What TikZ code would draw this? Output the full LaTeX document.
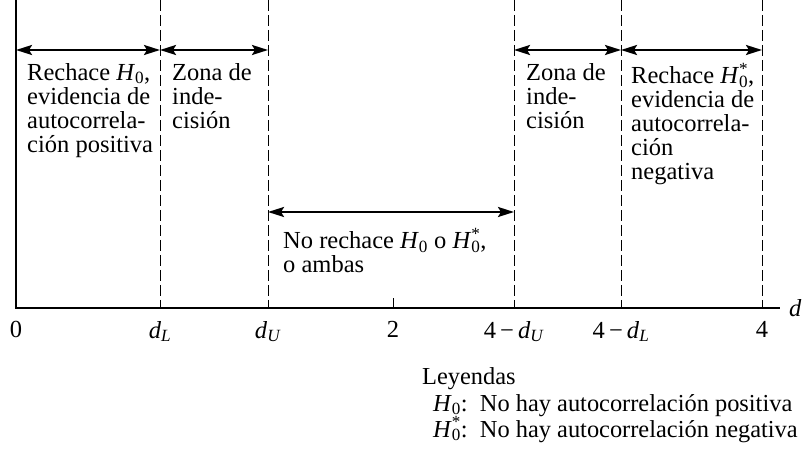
\documentclass[tikz,border=0pt]{standalone}
\usepackage{fontspec}
\setmainfont{Liberation Serif}
\usepackage{tikz}
\usetikzlibrary{arrows.meta,positioning}
\newcommand{\Hnull}{\textit{H}\textsubscript{0}}
\newcommand{\Hstar}{\textit{H}\rlap{\textsuperscript{*}}\textsubscript{0}}
\newcommand{\dsub}[1]{\textit{d}\textsubscript{\textit{#1}}}
\tikzset{
  zonetext/.style={anchor=north west, align=left, inner sep=0pt,
    font=\fontsize{24.5}{24}\selectfont},
  ticklabel/.style={anchor=north, inner sep=0pt, font=\fontsize{24.5}{24}\selectfont},
  legendtext/.style={anchor=base west, inner sep=0pt, font=\fontsize{24.4}{26}\selectfont},
  bound/.style={line width=1pt, dash pattern=on 11pt off 4pt},
  axisline/.style={line width=1.4pt},
  span/.style={{Stealth[length=16pt,width=10pt,inset=3pt]}-{Stealth[length=16pt,width=10pt,inset=3pt]},
    line width=2.3pt}
}

\begin{document}
\begin{tikzpicture}[x=1pt,y=-1pt]
    \useasboundingbox (0,0) rectangle (803,454);
    % rows and tick points on the d axis
    \coordinate (top) at (0,0);
    \coordinate (arow) at (0,50);
    \coordinate (mrow) at (0,212);
    \coordinate (p0) at (16,308);
    \coordinate (pL) at (160,308);
    \coordinate (pU) at (268,308);
    \coordinate (p2) at (393,308);
    \coordinate (qU) at (514,308);
    \coordinate (qL) at (621,308);
    \coordinate (p4) at (762,308);
    \coordinate (axend) at (780,308);

    \draw[axisline] (p0|-top) -- (p0) -- (axend);
    \foreach \p in {pL,pU,qU,qL,p4}
      \draw[bound] (\p|-top) -- (\p);
    \draw[line width=1pt] (p2) -- ++(0,-10);
    \node[inner sep=0pt, anchor=west, font=\fontsize{24.5}{24}\selectfont, right=9pt of axend] (dlab) {\textit{d}};

    % spans
    \draw[span] (p0|-arow) -- (pL|-arow);
    \draw[span] (pL|-arow) -- (pU|-arow);
    \draw[span] (qU|-arow) -- (qL|-arow);
    \draw[span] (qL|-arow) -- (p4|-arow);
    \draw[span] (pU|-mrow) -- (qU|-mrow);

    % zone texts
    \node[zonetext] (rejpos) at (27,63) {Rechace \Hnull,\\evidencia de\\autocorrela-\\ción positiva};
    \node[zonetext] (indlow) at (172,63) {Zona de\\inde-\\cisión};
    \node[zonetext] (indup) at (526,63) {Zona de\\inde-\\cisión};
    \node[zonetext] (rejneg) at (631,63) {Rechace \Hstar,\\evidencia de\\autocorrela-\\ción\\negativa};
    \node[zonetext] (norej) at (283,228) {No rechace \Hnull{} o \Hstar,\\o ambas};

    % tick labels
    \node[ticklabel] (l0) at ([yshift=-13pt]p0) {0};
    \node[ticklabel] (lL) at ([yshift=-13pt]pL) {\dsub{L}};
    \node[ticklabel] (lU) at ([yshift=-13pt]pU) {\dsub{U}};
    \node[ticklabel] (l2) at ([yshift=-13pt]p2) {2};
    \node[ticklabel] (lqU) at ([yshift=-13pt]qU) {4\,−\,\dsub{U}};
    \node[ticklabel] (lqL) at ([yshift=-13pt]qL) {4\,−\,\dsub{L}};
    \node[ticklabel] (l4) at ([yshift=-13pt]p4) {4};

    % legend
    \node[legendtext] (leg) at (422,384) {Leyendas};
    \node[legendtext] (legA) at (433,411) {\Hnull:\ \ No hay autocorrelación positiva};
    \node[legendtext] (legB) at (433,437) {\Hstar:\ \ No hay autocorrelación negativa};
\end{tikzpicture}
\end{document}
